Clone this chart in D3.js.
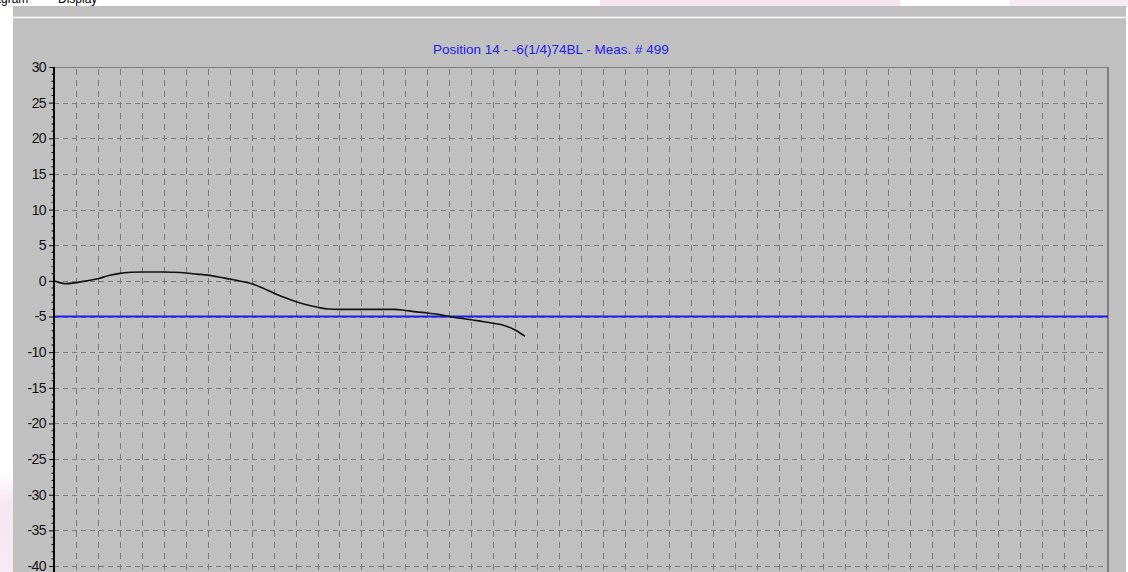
<!DOCTYPE html>
<html>
<head>
<meta charset="utf-8">
<script src="https://cdn.jsdelivr.net/npm/d3@7"></script>
<style>
  html, body { margin: 0; padding: 0; background: #ffffff; overflow: hidden; }
  svg { display: block; }
</style>
</head>
<body>
<svg id="chart" width="1128" height="572"></svg>
<script>
// Measurement trace: position along the part vs. deviation
const xValues = [0, 0.5, 1, 1.5, 2, 2.5, 3, 3.5, 4, 4.5, 5, 5.5, 6, 6.5, 7, 7.5, 8, 8.5, 9, 9.5,
                 10, 10.5, 11, 11.5, 12, 12.5, 13, 14, 15, 15.5, 16, 16.5, 17, 17.5, 18, 18.5,
                 19, 19.5, 20, 20.5, 21, 21.45];
const yValues = [0, -0.4, -0.25, 0.0, 0.3, 0.75, 1.05, 1.2, 1.25, 1.25, 1.25, 1.2, 1.1, 0.95, 0.8, 0.55,
                 0.25, -0.05, -0.4, -1.0, -1.7, -2.35, -2.9, -3.35, -3.7, -3.95, -4.0, -4.0, -4.0, -4.0,
                 -4.15, -4.35, -4.5, -4.7, -5.0, -5.25, -5.45, -5.7, -5.95, -6.25, -6.9, -7.8];
const limitValue = -5;
const yTickValues = [30, 25, 20, 15, 10, 5, 0, -5, -10, -15, -20, -25, -30, -35, -40, -45];
const xGridCount = 48;
const titleText = "Position 14 - -6(1/4)74BL - Meas. # 499";

const svg = d3.select("#chart");
const W = 1128, H = 572;

// faint pink wallpaper behind the window
const defs = svg.append("defs");
const gLeft = defs.append("linearGradient").attr("id", "pinkLeft").attr("x1", 0).attr("y1", 0).attr("x2", 0).attr("y2", 1);
gLeft.append("stop").attr("offset", "0").attr("stop-color", "#f6e6ef").attr("stop-opacity", 0);
gLeft.append("stop").attr("offset", "0.35").attr("stop-color", "#f6e6ef").attr("stop-opacity", 1);
gLeft.append("stop").attr("offset", "1").attr("stop-color", "#f8eaf2").attr("stop-opacity", 1);
svg.append("rect").attr("x", 0).attr("y", 470).attr("width", 13).attr("height", 102).attr("fill", "url(#pinkLeft)");
svg.append("rect").attr("x", 600).attr("y", 0).attr("width", 300).attr("height", 6).attr("fill", "#f4e4ee");
svg.append("rect").attr("x", 1010).attr("y", 0).attr("width", 118).attr("height", 6).attr("fill", "#f8ecf3");

// window chrome
svg.append("rect").attr("x", 13).attr("y", 6).attr("width", 1113).attr("height", H - 6).attr("fill", "#c0c0c0");
svg.append("line").attr("x1", 13).attr("x2", 1126).attr("y1", 17.5).attr("y2", 17.5)
  .attr("stroke", "#ffffff").attr("stroke-width", 1.5);
const menu = svg.append("g").attr("font-family", "Liberation Sans, Arial, sans-serif")
  .attr("font-size", 12).attr("fill", "#000");
menu.append("text").attr("x", -17).attr("y", 3).text("Diagram");
menu.append("text").attr("x", 58).attr("y", 3).text("Display");

const plotLeft = 54, plotRight = 1108, plotTop = 67;
const x = d3.scaleLinear().domain([0, xGridCount]).range([plotLeft, plotRight]);
const y = d3.scaleLinear().domain([-40, 30]).range([566, plotTop]);

const grid = svg.append("g");
// vertical dashed grid
grid.selectAll("line.v").data(d3.range(1, xGridCount)).join("line")
  .attr("x1", d => Math.round(x(d)) + 0.5).attr("x2", d => Math.round(x(d)) + 0.5)
  .attr("y1", plotTop).attr("y2", H)
  .attr("stroke", "#7a7a7a").attr("stroke-width", 1)
  .attr("stroke-dasharray", "6,5").attr("stroke-dashoffset", -2);
// horizontal dashed grid
grid.selectAll("line.h").data(yTickValues.filter(v => v < 30)).join("line")
  .attr("x1", plotLeft).attr("x2", plotRight)
  .attr("y1", d => Math.round(y(d)) + 0.5).attr("y2", d => Math.round(y(d)) + 0.5)
  .attr("stroke", "#7a7a7a").attr("stroke-width", 1)
  .attr("stroke-dasharray", "5,4");

// plot frame (top and right)
svg.append("line").attr("x1", plotLeft).attr("x2", plotRight).attr("y1", plotTop + 0.5).attr("y2", plotTop + 0.5)
  .attr("stroke", "#808080").attr("stroke-width", 1);
svg.append("line").attr("x1", plotRight).attr("x2", plotRight).attr("y1", plotTop).attr("y2", H)
  .attr("stroke", "#808080").attr("stroke-width", 2);

// limit line
svg.append("line").attr("x1", plotLeft).attr("x2", plotRight)
  .attr("y1", y(limitValue)).attr("y2", y(limitValue))
  .attr("stroke", "#1c1cf0").attr("stroke-width", 2);

// measured trace
const pts = xValues.map((v, i) => [v, yValues[i]]);
svg.append("path").datum(pts)
  .attr("fill", "none").attr("stroke", "#111").attr("stroke-width", 1.6)
  .attr("d", d3.line().x(d => x(d[0])).y(d => y(d[1])).curve(d3.curveMonotoneX));

// y axis
const yAxis = d3.axisLeft(y).tickValues(yTickValues).tickSize(5).tickPadding(3)
  .tickFormat(d => String(d));
const ax = svg.append("g").attr("transform", `translate(${plotLeft},0)`).call(yAxis);
ax.select(".domain").remove();
ax.selectAll(".tick line").attr("stroke", "#000");
ax.selectAll(".tick text").attr("font-family", "Liberation Sans, Arial, sans-serif")
  .attr("font-size", 14).attr("fill", "#111").attr("letter-spacing", "-0.6");
// minor ticks
svg.append("g").selectAll("line").data(d3.range(-45, 30, 1).filter(v => v % 5 !== 0)).join("line")
  .attr("x1", plotLeft - 2.5).attr("x2", plotLeft).attr("y1", d => y(d)).attr("y2", d => y(d))
  .attr("stroke", "#000").attr("stroke-width", 1);
svg.append("line").attr("x1", plotLeft).attr("x2", plotLeft).attr("y1", plotTop).attr("y2", H)
  .attr("stroke", "#000").attr("stroke-width", 2);

// title
svg.append("text").attr("x", 433).attr("y", 53.5)
  .attr("font-family", "Liberation Sans, Arial, sans-serif").attr("font-size", 13.5)
  .attr("fill", "#1c1cf0").text(titleText);
</script>
</body>
</html>
